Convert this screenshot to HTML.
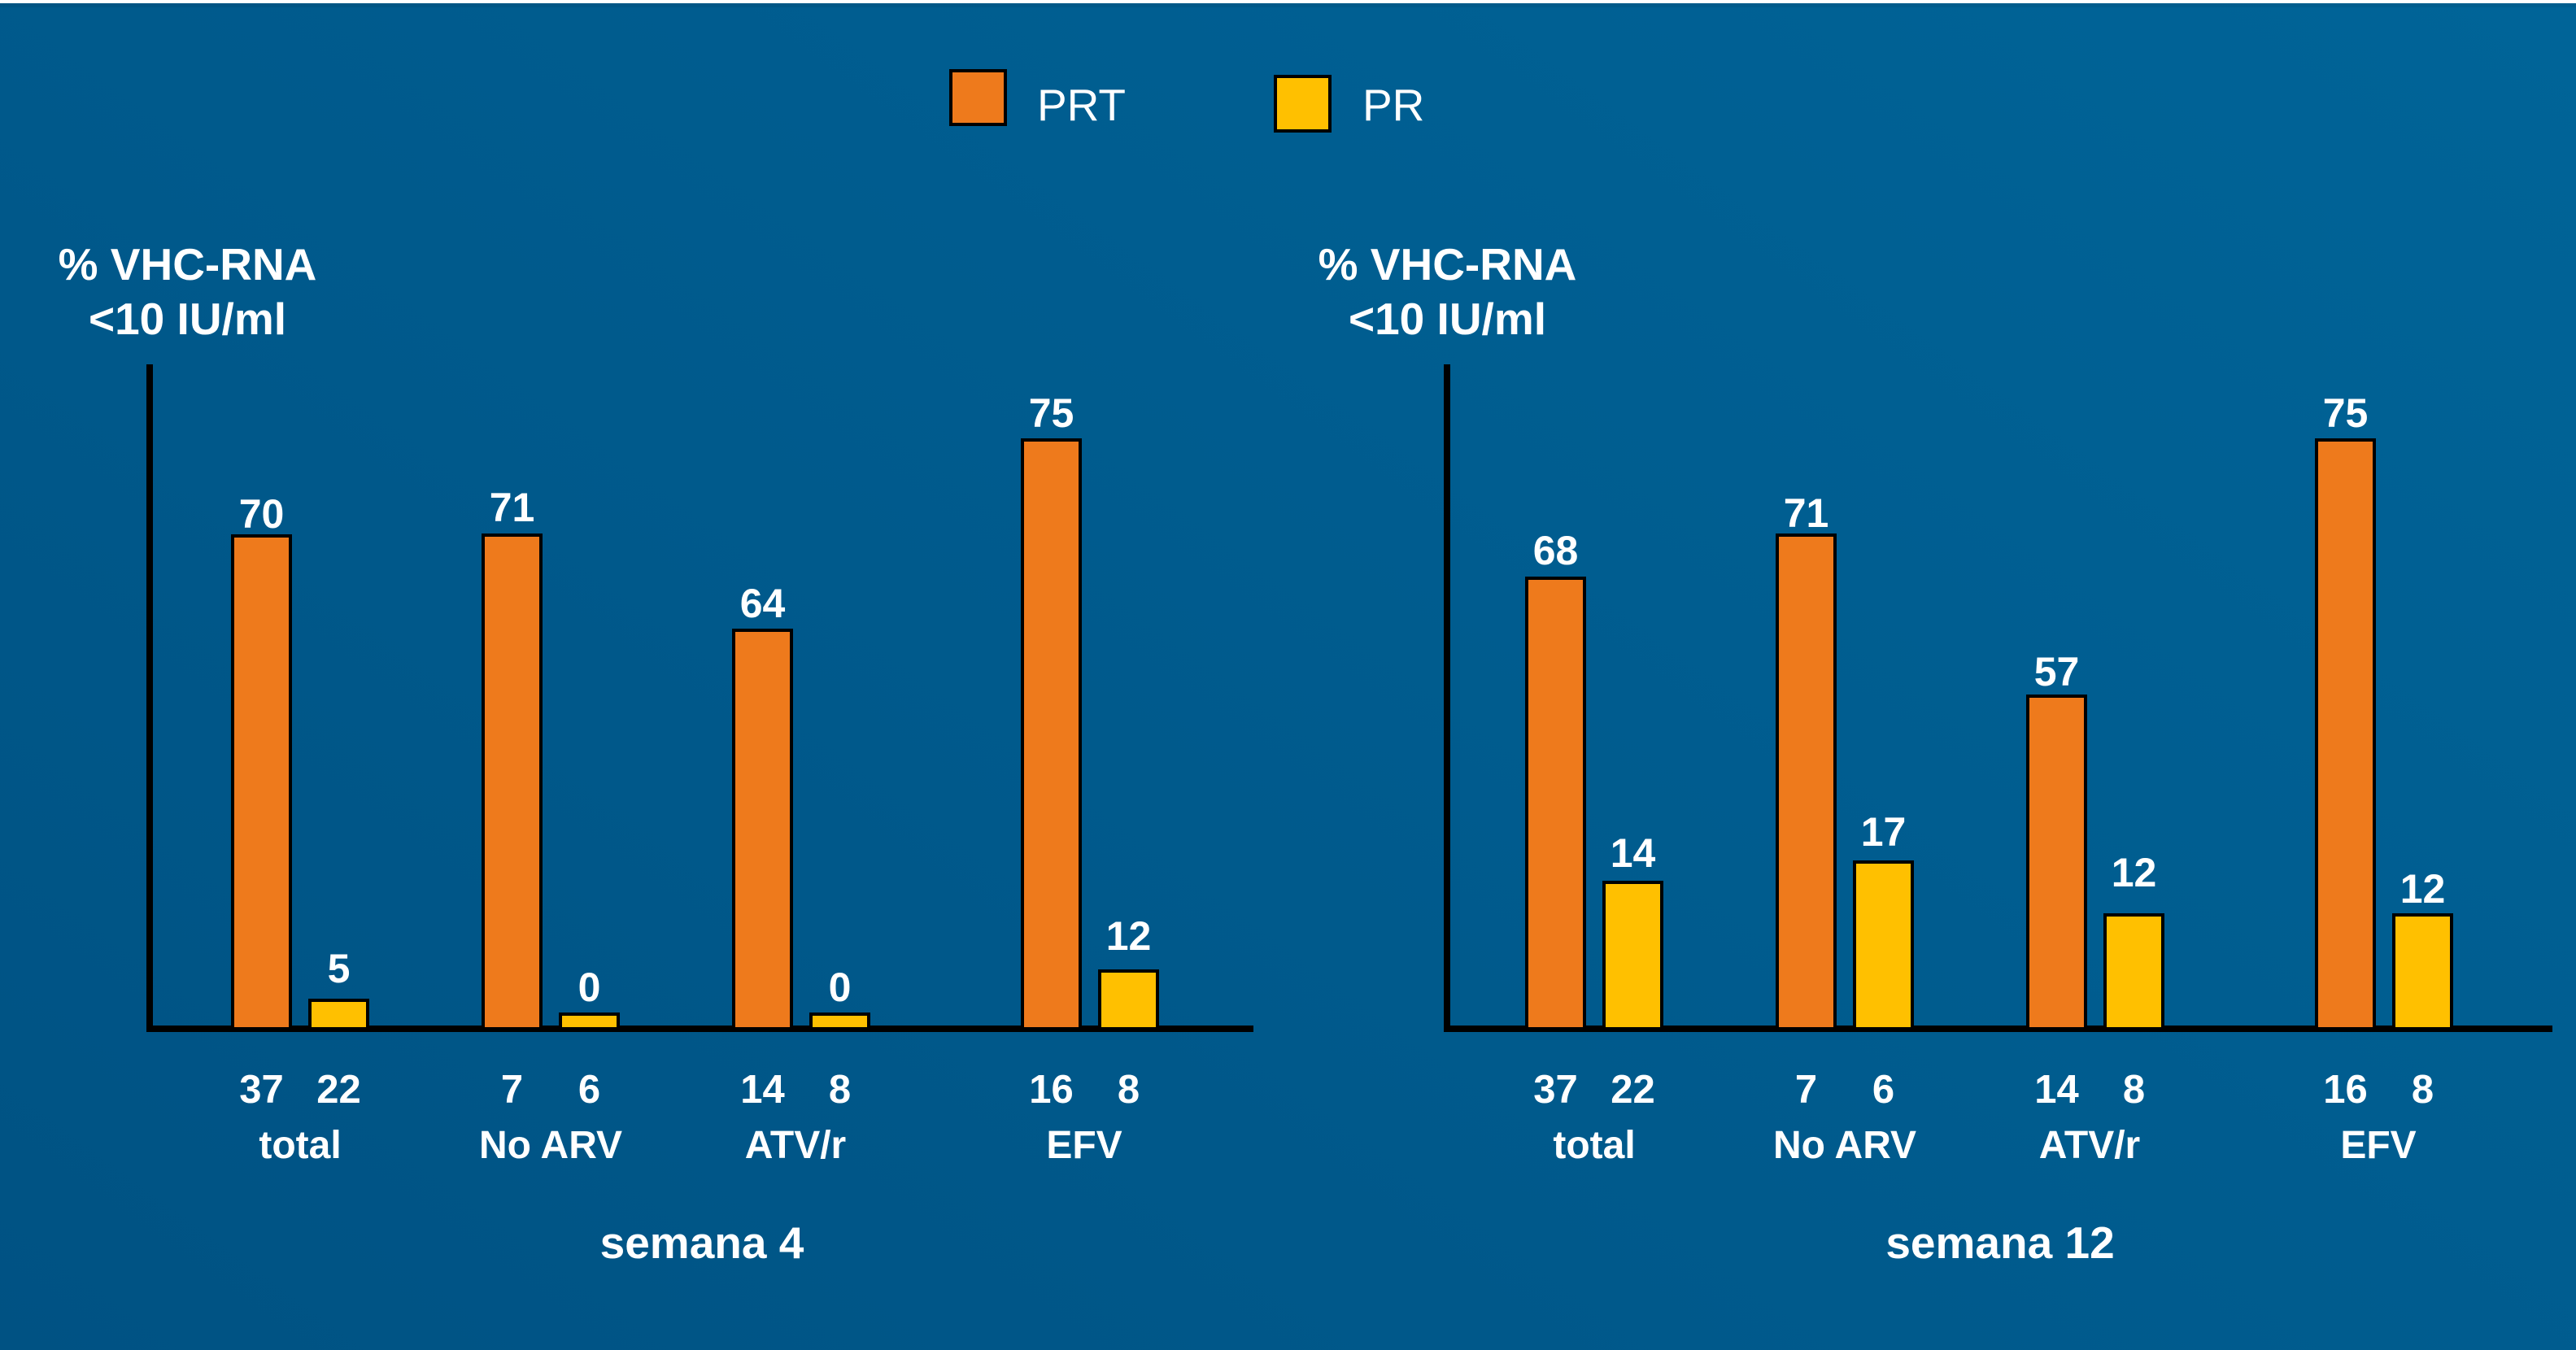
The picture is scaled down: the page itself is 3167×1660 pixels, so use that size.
<!DOCTYPE html>
<html lang="es">
<head>
<meta charset="utf-8">
<title>VHC-RNA semana 4 y semana 12</title>
<style>
html,body{margin:0;padding:0;width:3167px;height:1660px;overflow:hidden;background:#005a8c}
svg{display:block}
text{font-family:"Liberation Sans",sans-serif;fill:#fff}
.b{font-weight:700}
</style>
</head>
<body>
<svg id="chart" xmlns="http://www.w3.org/2000/svg" width="3167" height="1660" viewBox="0 0 3167 1660">
  <defs>
    <linearGradient id="bgGrad" gradientUnits="userSpaceOnUse" x1="0" y1="1660" x2="1899" y2="-926">
      <stop offset="0" stop-color="#005283"/>
      <stop offset="1" stop-color="#006498"/>
    </linearGradient>
  </defs>
  <rect x="0" y="0" width="3167" height="1660" fill="url(#bgGrad)"/>
  <rect x="0" y="0" width="3167" height="4" fill="#ffffff"/>
  <rect x="0" y="4" width="3167" height="5" fill="#000000" fill-opacity="0.06"/>
  <g>
    <g>
      <rect x="1169" y="87" width="67" height="66" fill="#ee7a1c" stroke="#000" stroke-width="4"/>
      <text x="1275" y="148" font-size="55">PRT</text>
    </g>
    <g>
      <rect x="1568" y="94" width="67" height="67" fill="#ffc000" stroke="#000" stroke-width="4"/>
      <text x="1675" y="148" font-size="55">PR</text>
    </g>
  </g>
  <g id="plots"></g>
</svg>
<script>
// ---- chart data ----
const categories = ["total", "No ARV", "ATV/r", "EFV"];
const prtWeek4 = [70, 71, 64, 75];
const prWeek4 = [5, 0, 0, 12];
const prtWeek12 = [68, 71, 57, 75];
const prWeek12 = [14, 17, 12, 12];
const nPrt = [37, 7, 14, 16];
const nPr = [22, 6, 8, 8];
const yAxisTitle = ["% VHC-RNA", "<10 IU/ml"];
const panelTitles = ["semana 4", "semana 12"];

// ---- layout ----
const NS = "http://www.w3.org/2000/svg";
const BASE_Y = 1262;
const BAR_W = 75;
const PAIR_STEP = 95;
const GROUP_STEP = 308;
const LAST_GROUP_EXTRA = 47;
// The source slide is not drawn to a linear scale, so each panel's value axis is a calibrated piecewise function.
const axisDomainWeek4 = [0, 5, 12, 64, 70, 71, 75];
const axisHeightWeek4 = [17, 34, 70, 489, 605, 606, 723];
const axisDomainWeek12 = [0, 12, 14, 17, 57, 68, 71, 75];
const axisHeightWeek12 = [17, 139, 179, 204, 408, 553, 606, 723];

function yScale(p, v) {
  const dom = p.domain, rng = p.heights;
  if (v <= dom[0]) return BASE_Y - rng[0];
  let i = 0;
  while (i < dom.length - 2 && v > dom[i + 1]) i++;
  const t = (v - dom[i]) / (dom[i + 1] - dom[i]);
  return BASE_Y - (rng[i] + t * (rng[i + 1] - rng[i]));
}
function groupX(panel, i) {
  return panel.firstBar + i * GROUP_STEP + (i === 3 ? LAST_GROUP_EXTRA : 0);
}
function svgEl(tag, attrs, parent, txt) {
  const el = document.createElementNS(NS, tag);
  for (const k in attrs) el.setAttribute(k, attrs[k]);
  if (txt !== undefined) el.textContent = txt;
  parent.appendChild(el);
  return el;
}

const panels = [
  { key: "week4", prt: prtWeek4, pr: prWeek4, title: panelTitles[0], domain: axisDomainWeek4, heights: axisHeightWeek4,
    axisX: 180, axisEnd: 1541, firstBar: 284, titleX: 863, yTitleX: 230.5,
    prtGap: [8, 15, 14, 14], prGap: [20, 14, 14, 24] },
  { key: "week12", prt: prtWeek12, pr: prWeek12, title: panelTitles[1], domain: axisDomainWeek12, heights: axisHeightWeek12,
    axisX: 1775, axisEnd: 3138, firstBar: 1875, titleX: 2459, yTitleX: 1779.5,
    prtGap: [15, 8, 11, 14], prGap: [17, 18, 33, 13] }
];

const root = document.getElementById("plots");

function drawBar(p, g, name, x, v, color, gap) {
  const top = yScale(p, v);
  const outline = svgEl("rect", { x: x, y: top, width: BAR_W, height: BASE_Y + 1 - top, fill: "#000" }, g);
  
  
  const fill = svgEl("rect", { x: x + 4, y: top + 4, width: BAR_W - 8, height: Math.max(0, BASE_Y + 1 - top - 4), fill: color }, g);
  
  
  const label = svgEl("text", { x: x + BAR_W / 2, y: top - gap, "font-size": 50, "text-anchor": "middle", class: "b" }, g, String(v));
  
  
}

panels.forEach(function (p) {
  const g = svgEl("g", {}, root);
  
  

  const t1 = svgEl("text", { x: p.yTitleX, y: 344, "font-size": 55, "text-anchor": "middle", class: "b" }, g, yAxisTitle[0]);
  
  
  const t2 = svgEl("text", { x: p.yTitleX, y: 411, "font-size": 55, "text-anchor": "middle", class: "b" }, g, yAxisTitle[1]);
  
  

  const ya = svgEl("rect", { x: p.axisX, y: 448, width: 8, height: 821, fill: "#000" }, g);
  
  
  const xa = svgEl("rect", { x: p.axisX, y: 1261, width: p.axisEnd - p.axisX, height: 8, fill: "#000" }, g);
  
  

  categories.forEach(function (cat, i) {
    const x0 = groupX(p, i);
    const x1 = x0 + PAIR_STEP;
    drawBar(p, g, 'bar-prt-' + i, x0, p.prt[i], "#ee7a1c", p.prtGap[i]);
    drawBar(p, g, 'bar-pr-' + i, x1, p.pr[i], "#ffc000", p.prGap[i]);

    const n1 = svgEl("text", { x: x0 + BAR_W / 2, y: 1356, "font-size": 49, "text-anchor": "middle", class: "b" }, g, String(nPrt[i]));
    
    
    const n2 = svgEl("text", { x: x1 + BAR_W / 2, y: 1356, "font-size": 49, "text-anchor": "middle", class: "b" }, g, String(nPr[i]));
    
    

    const cx = x0 + (PAIR_STEP + BAR_W) / 2 + (i >= 2 ? -7 : 0);
    const c = svgEl("text", { x: cx, y: 1424, "font-size": 48, "text-anchor": "middle", class: "b" }, g, cat);
    
    
  });

  const pt = svgEl("text", { x: p.titleX, y: 1547, "font-size": 55, "text-anchor": "middle", class: "b" }, g, p.title);
  
  
});
</script>
</body>
</html>
